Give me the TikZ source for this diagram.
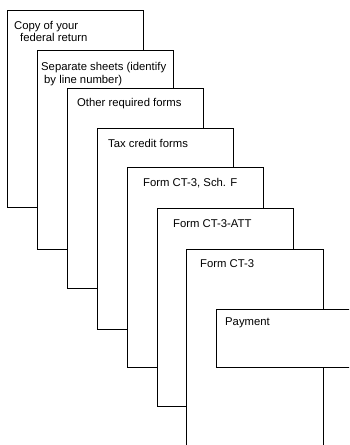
\documentclass[tikz,border=0pt]{standalone}
\usepackage{fontspec}
\setmainfont{Liberation Sans}
\begin{document}
\begin{tikzpicture}[x=1pt,y=-1pt,
  sheet/.style={draw=black, fill=white, line width=1.4pt, inner sep=0pt, anchor=north west},
  lbl/.style={anchor=base west, inner sep=0pt, font=\fontsize{11.3}{13}\selectfont}]
\useasboundingbox (0,0) rectangle (349,445);
\clip (0,0) rectangle (349,445);
\node[sheet, minimum width=136pt, minimum height=197pt] (s1) at (7,10) {};
\node[lbl] (t1a) at (14,29) {Copy of your};
\node[lbl] (t1b) at (20,41.5) {federal return};
\node[sheet, minimum width=136pt, minimum height=199pt] (s2) at (37,50) {};
\node[lbl] (t2a) at (41,70.7) {Separate sheets (identify};
\node[lbl] (t2b) at (44,83) {by line number)};
\node[sheet, minimum width=136pt, minimum height=200pt] (s3) at (67,88) {};
\node[lbl] (t3) at (77,106) {Other required forms};
\node[sheet, minimum width=136pt, minimum height=201pt] (s4) at (97,128) {};
\node[lbl] (t4) at (108,147) {Tax credit forms};
\node[sheet, minimum width=136pt, minimum height=200pt] (s5) at (127,167) {};
\node[lbl] (t5) at (143,186) {Form CT-3, Sch. F};
\node[sheet, minimum width=136pt, minimum height=198pt] (s6) at (157,208) {};
\node[lbl] (t6) at (173,227) {Form CT-3-ATT};
\node[sheet, minimum width=137pt, minimum height=220pt] (s7) at (186,249) {};
\node[lbl] (t7) at (200,267) {Form CT-3};
\node[sheet, minimum width=150pt, minimum height=58pt] (s8) at (216,309) {};
\node[lbl] (t8) at (225,325) {Payment};
\end{tikzpicture}
\end{document}
